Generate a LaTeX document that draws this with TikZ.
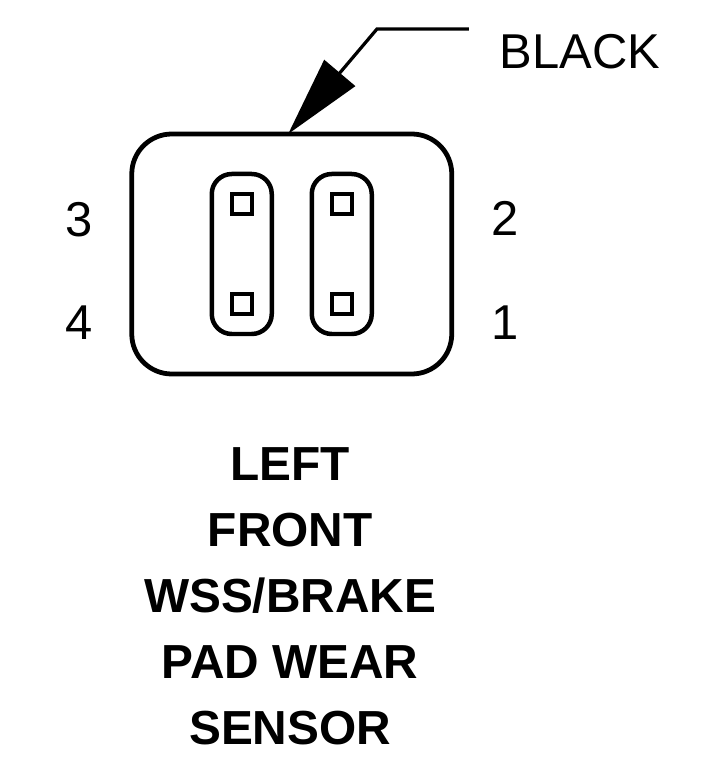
\documentclass[tikz,border=0pt]{standalone}
\usepackage{fontspec}
\setmainfont{Liberation Sans}
\usetikzlibrary{arrows.meta}

\begin{document}
\begin{tikzpicture}[
    pinlabel/.style={font=\fontsize{34.8}{40}\selectfont, inner sep=0, anchor=base},
    title/.style={font=\fontsize{34}{40}\selectfont\bfseries, inner sep=0, anchor=base},
    slot/.style={draw, line width=3.2pt, rounded corners=0.5cm, minimum width=1.5cm, minimum height=4cm, inner sep=0, outer sep=0},
    pin/.style={draw, line width=3.2pt, minimum size=0.5cm, inner sep=0, outer sep=0}
  ]
  \useasboundingbox (-7.294,-12.675) rectangle (10.506,6.35);
  % connector body
  \node[draw, line width=3.4pt, rounded corners=1cm, minimum width=8cm, minimum height=6cm, inner sep=0, outer sep=0] (housing) at (0, 0) {};
  \node[slot] (slotL) at (-1.25, 0) {};
  \node[slot] (slotR) at (1.25, 0) {};
  \node[pin] (pin3) at (-1.25, 1.25) {};
  \node[pin] (pin4) at (-1.25, -1.25) {};
  \node[pin] (pin2) at (1.25, 1.25) {};
  \node[pin] (pin1) at (1.25, -1.25) {};
  % pin numbers
  \node[pinlabel] (num3) at (-5.31, 0.43) {3};
  \node[pinlabel] (num4) at (-5.31, -2.15) {4};
  \node[pinlabel] (num2) at (5.33, 0.45) {2};
  \node[pinlabel] (num1) at (5.33, -2.15) {1};
  % colour callout
  \node[pinlabel] (colour) at (7.2, 4.625) {BLACK};
  \coordinate (leadend) at (4.43, 5.625);
  \coordinate (leadbend) at (2.13, 5.625);
  \draw[line width=2.3pt, -{Triangle[length=2cm, width=1cm]}] (leadend) -- (leadbend) -- ([xshift=-0.09cm]housing.north);
  % caption
  \foreach \t [count=\i] in {LEFT, FRONT, WSS/BRAKE, PAD WEAR, SENSOR}
    \node[title] (title\i) at (-0.04, -5.65-1.656*\i+1.656) {\t};
\end{tikzpicture}
\end{document}
